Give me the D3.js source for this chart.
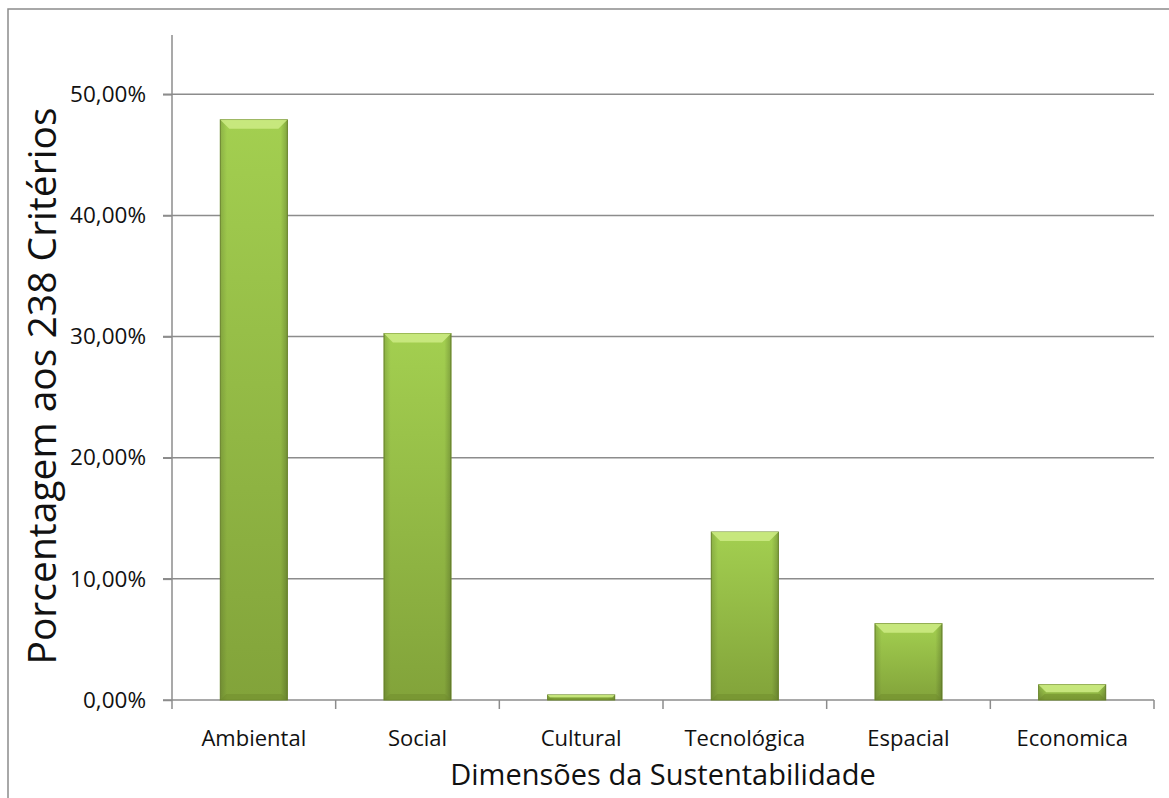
<!DOCTYPE html>
<html>
<head>
<meta charset="utf-8">
<script src="https://cdn.jsdelivr.net/npm/d3@7"></script>
<style>
  body { margin: 0; background: #fff; }
  svg { display: block; font-family: 'Open Sans', sans-serif; }
</style>
</head>
<body>
<div id="chart"></div>
<script>
// data
const categories = ['Ambiental', 'Social', 'Cultural', 'Tecnológica', 'Espacial', 'Economica'];
const values = [0.479, 0.3025, 0.0042, 0.1387, 0.063, 0.0126];
const yTicks = [0, 0.1, 0.2, 0.3, 0.4, 0.5];

const W = 1169;
const H = 798;
const margin = { top: 35, right: 15, bottom: 98, left: 172 };
const width = W - margin.left - margin.right;
const height = H - margin.top - margin.bottom;

const svg = d3.select('#chart').append('svg')
  .attr('width', W)
  .attr('height', H);

const defs = svg.append('defs');
const grad = defs.append('linearGradient')
  .attr('id', 'barFill')
  .attr('x1', 0).attr('y1', 0).attr('x2', 0).attr('y2', 1);
grad.append('stop').attr('offset', '0%').attr('stop-color', '#a3cf50');
grad.append('stop').attr('offset', '100%').attr('stop-color', '#82a33a');

const sideGrad = defs.append('linearGradient')
  .attr('id', 'sideShade')
  .attr('x1', 0).attr('y1', 0).attr('x2', 1).attr('y2', 0);
sideGrad.append('stop').attr('offset', '0%').attr('stop-color', '#000').attr('stop-opacity', 0.14);
sideGrad.append('stop').attr('offset', '10%').attr('stop-color', '#000').attr('stop-opacity', 0);
sideGrad.append('stop').attr('offset', '90%').attr('stop-color', '#000').attr('stop-opacity', 0);
sideGrad.append('stop').attr('offset', '100%').attr('stop-color', '#000').attr('stop-opacity', 0.2);

// outer frame (right and bottom run off the picture)
svg.append('rect')
  .attr('x', 8).attr('y', 9)
  .attr('width', W + 20).attr('height', H + 20)
  .attr('fill', 'none')
  .attr('stroke', '#8c8c8c')
  .attr('stroke-width', 1.5);

const g = svg.append('g')
  .attr('transform', `translate(${margin.left},${margin.top})`);

const x = d3.scaleBand().domain(categories).range([0, width]).paddingInner(0.59).paddingOuter(0.295);
const y = d3.scaleLinear().domain([0, 0.549]).range([height, 0]);

// gridlines
g.append('g')
  .selectAll('line')
  .data(yTicks.slice(1))
  .enter().append('line')
    .attr('x1', -9)
    .attr('x2', width)
    .attr('y1', d => y(d))
    .attr('y2', d => y(d))
    .attr('stroke', '#8c8c8c')
    .attr('stroke-width', 1.5);

const fmt = d => d3.format('.2f')(d * 100).replace('.', ',') + '%';

const yAxis = g.append('g')
  .call(d3.axisLeft(y).tickValues(yTicks).tickFormat(fmt).tickSize(9).tickPadding(17));
yAxis.select('.domain').attr('stroke', '#8c8c8c').attr('stroke-width', 1.5)
  .attr('d', `M0,0V${height}`);
yAxis.selectAll('.tick line').attr('stroke', '#8c8c8c').attr('stroke-width', 1.5);
yAxis.selectAll('text').attr('font-size', '22.5px').attr('fill', '#111')
  .attr('font-family', "'Open Sans', sans-serif");

// x axis with ticks at band boundaries
const xAxis = g.append('g').attr('transform', `translate(0,${height})`);
xAxis.append('line')
  .attr('x1', -9).attr('x2', width)
  .attr('stroke', '#8c8c8c').attr('stroke-width', 1.5);
const step = x.step();
const bounds = d3.range(categories.length + 1).map(i => x(categories[0]) - x.paddingOuter() * step + i * step);
xAxis.selectAll('.xtick')
  .data(bounds)
  .enter().append('line')
    .attr('x1', d => d).attr('x2', d => d)
    .attr('y1', 0).attr('y2', 9)
    .attr('stroke', '#8c8c8c').attr('stroke-width', 1.5);
xAxis.selectAll('.xlab')
  .data(categories)
  .enter().append('text')
    .attr('x', d => x(d) + x.bandwidth() / 2)
    .attr('y', 46)
    .attr('text-anchor', 'middle')
    .attr('font-size', '22px')
    .attr('fill', '#111')
    .text(d => d);

// bars with a bevel look
const bars = g.selectAll('.bar')
  .data(categories.map((c, i) => ({ key: c, value: values[i] })))
  .enter().append('g')
    .attr('class', 'bar');

bars.append('rect')
  .attr('x', d => x(d.key))
  .attr('y', d => y(d.value))
  .attr('width', x.bandwidth())
  .attr('height', d => height - y(d.value))
  .attr('fill', 'url(#barFill)')
  .attr('stroke', '#6f8c2c')
  .attr('stroke-width', 1);

bars.append('rect')
  .attr('x', d => x(d.key))
  .attr('y', d => y(d.value))
  .attr('width', x.bandwidth())
  .attr('height', d => height - y(d.value))
  .attr('fill', 'url(#sideShade)');

// top bevel
bars.append('path')
  .attr('d', (d) => {
    const x0 = x(d.key);
    const x1 = x0 + x.bandwidth();
    const y0 = y(d.value);
    const b = Math.min(9, (height - y0) / 2);
    return `M${x0},${y0}L${x1},${y0}L${x1 - b},${y0 + b}L${x0 + b},${y0 + b}Z`;
  })
  .attr('fill', '#cbea82')
  .attr('opacity', 0.9);

// bottom bevel
bars.append('path')
  .attr('d', (d) => {
    const x0 = x(d.key);
    const x1 = x0 + x.bandwidth();
    const y0 = y(d.value);
    const b = Math.min(6, (height - y0) / 2);
    return `M${x0},${height}L${x1},${height}L${x1 - b},${height - b}L${x0 + b},${height - b}Z`;
  })
  .attr('fill', '#6f8c2c')
  .attr('opacity', 0.5);

// axis titles
svg.append('text')
  .attr('x', margin.left + width / 2)
  .attr('y', 785)
  .attr('text-anchor', 'middle')
  .attr('font-size', '29px')
  .attr('fill', '#111')
  .text('Dimensões da Sustentabilidade');

svg.append('text')
  .attr('transform', 'translate(56,386) rotate(-90)')
  .attr('text-anchor', 'middle')
  .attr('font-size', '39px')
  .attr('fill', '#111')
  .text('Porcentagem aos 238 Critérios');
</script>
</body>
</html>
